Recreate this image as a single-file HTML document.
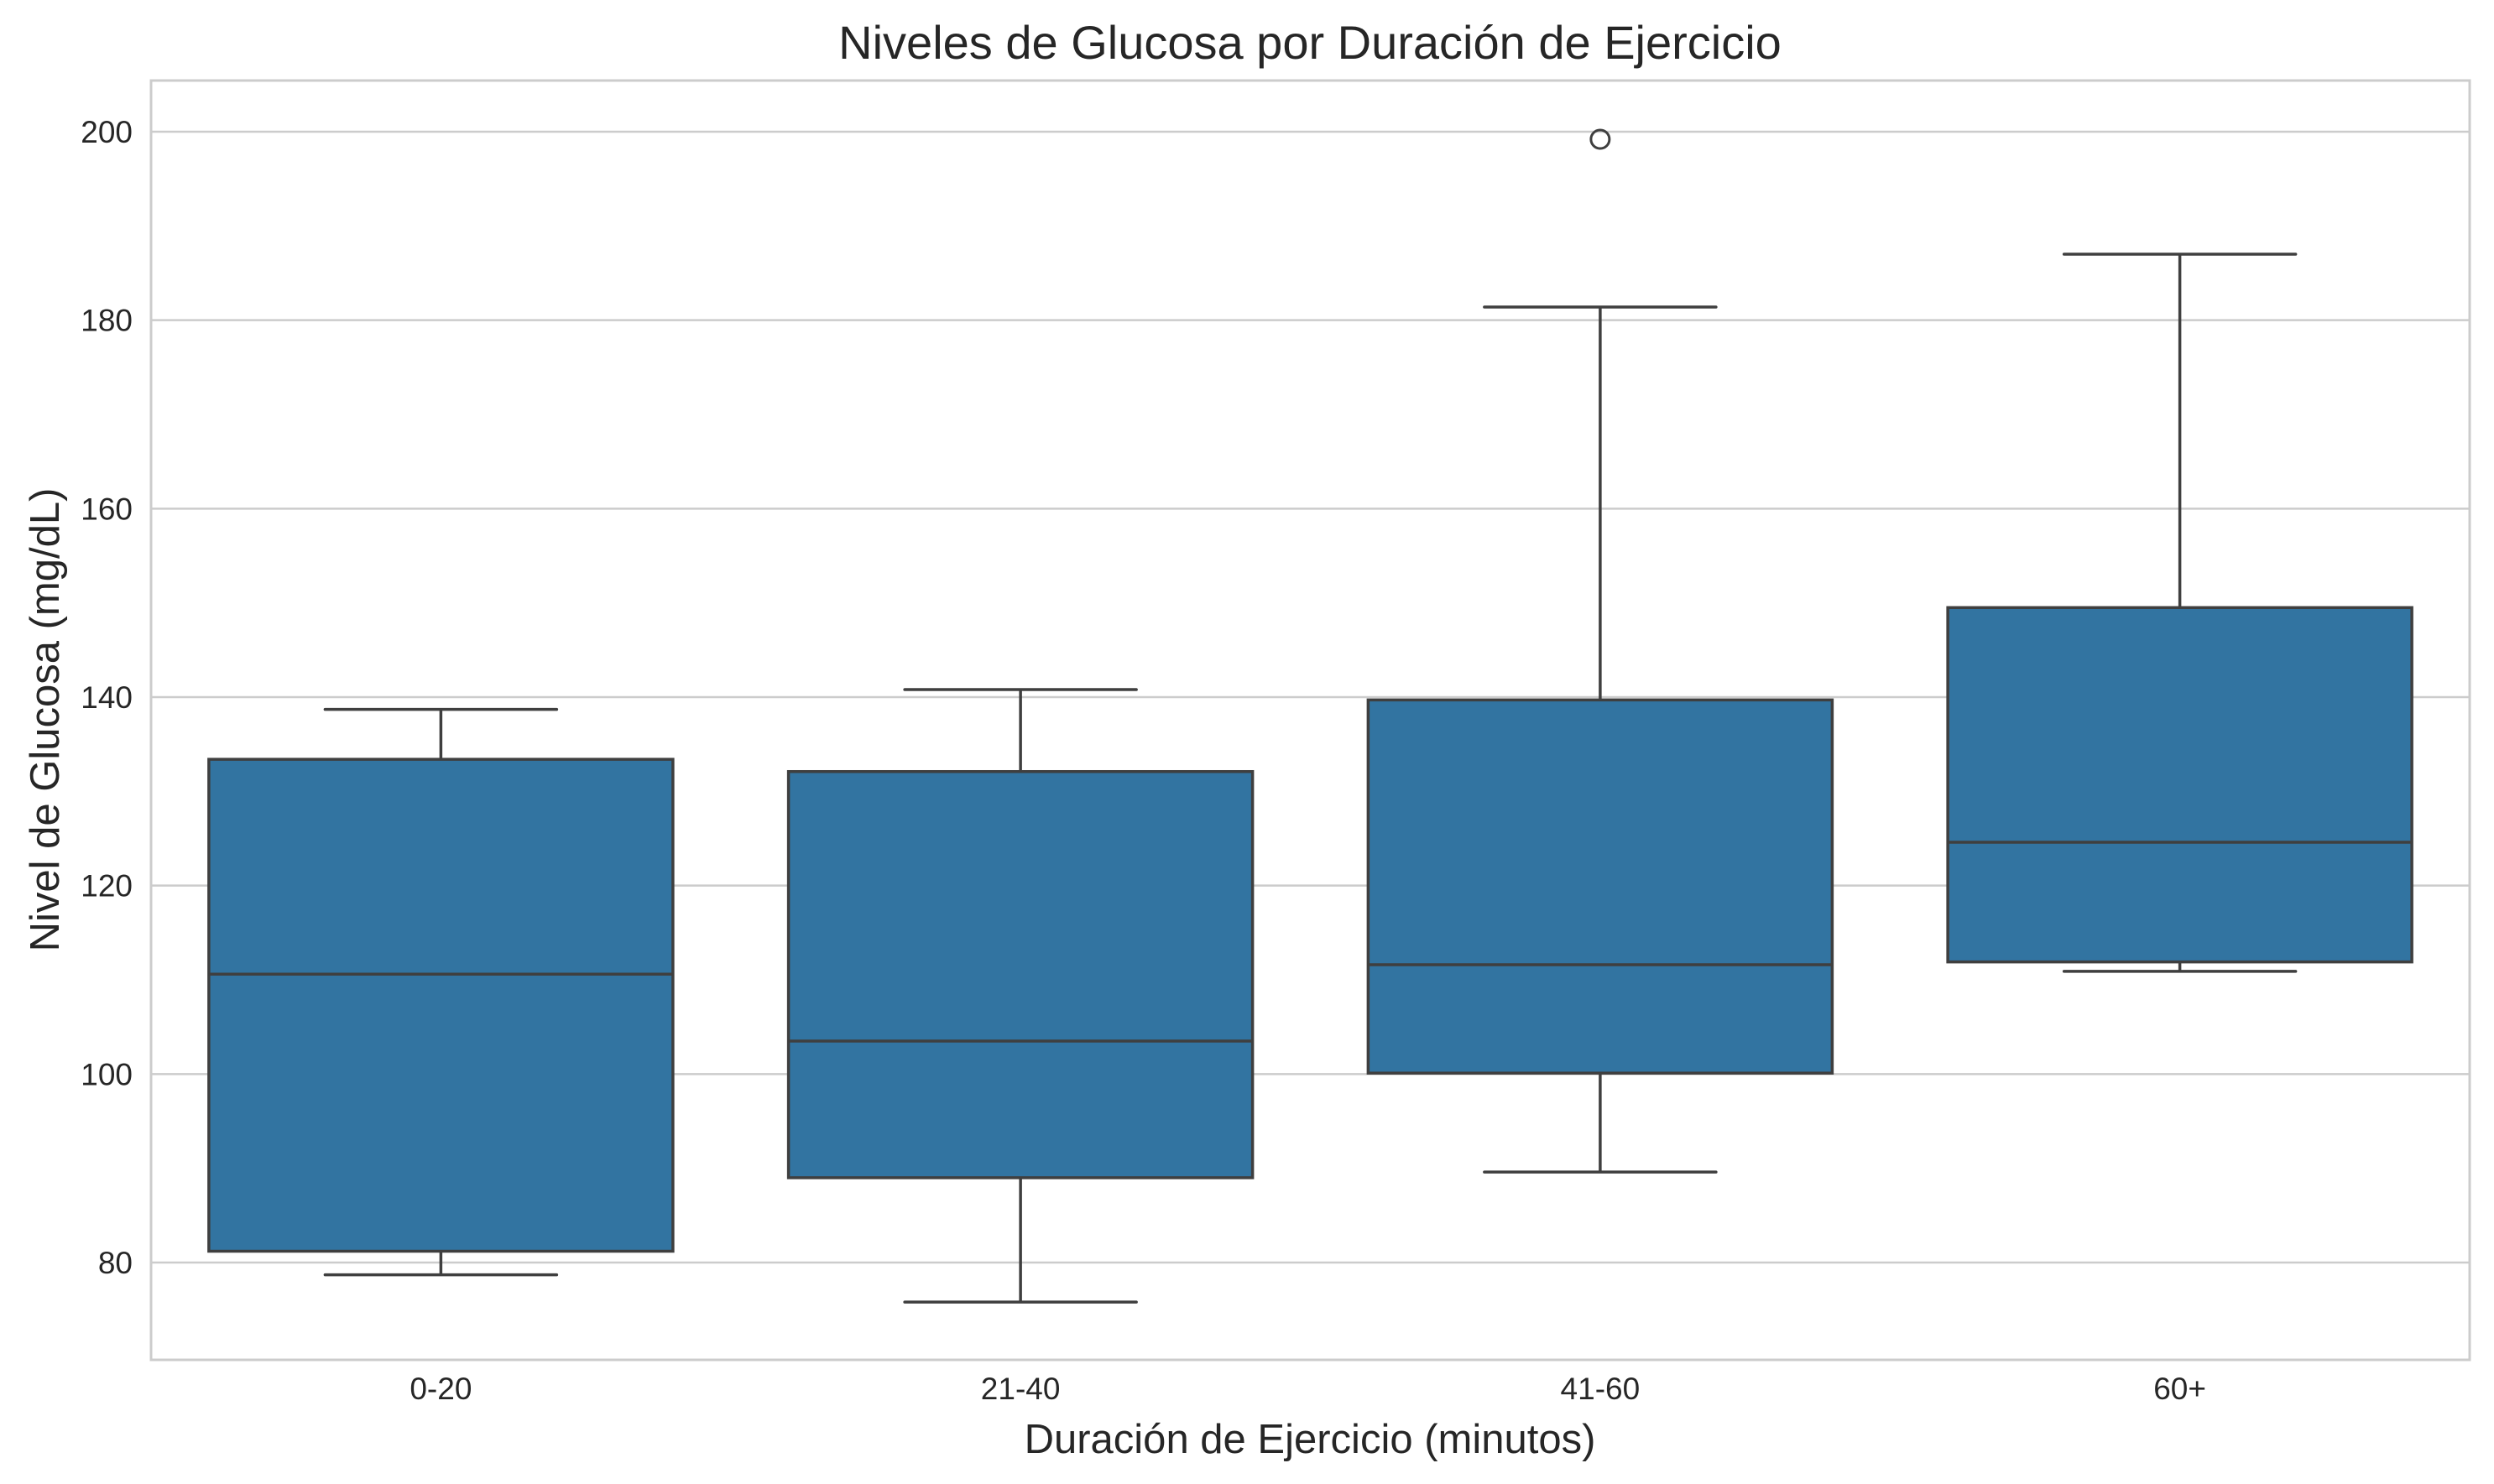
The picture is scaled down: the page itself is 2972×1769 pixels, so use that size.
<!DOCTYPE html>
<html><head><meta charset="utf-8"><style>html,body{margin:0;padding:0;background:#fff}svg{display:block}text{font-family:"Liberation Sans",sans-serif;fill:#262626}</style></head>
<body>
<svg id="chart" width="2972" height="1769" xmlns="http://www.w3.org/2000/svg">
<text x="1561" y="70" font-size="56" text-anchor="middle">Niveles de Glucosa por Duración de Ejercicio</text>
<text x="1561" y="1732" font-size="49" text-anchor="middle">Duración de Ejercicio (minutos)</text>
<text x="0" y="0" font-size="49" text-anchor="middle" transform="translate(70,858) rotate(-90)">Nivel de Glucosa (mg/dL)</text>
<g id="grid"></g><g id="boxes"></g>
<rect x="180" y="96" width="2763" height="1525" fill="none" stroke="#cccccc" stroke-width="3"/>
</svg>
<script>
const categories = ["0-20","21-40","41-60","60+"];
const whiskerLow = [78.7, 75.8, 89.6, 110.9];
const q1 = [81.2, 89.0, 100.1, 111.9];
const median = [110.6, 103.5, 111.6, 124.6];
const q3 = [133.4, 132.1, 139.7, 149.5];
const whiskerHigh = [138.7, 140.8, 181.4, 187.0];
const outliers = [[], [], [199.2], []];
const yTicks = [80, 100, 120, 140, 160, 180, 200];

const NS = "http://www.w3.org/2000/svg";
const L = 180, R = 2943, T = 96, B = 1621;
function y(v){ return 157 + (200 - v) * (1348 / 120); }
function x(i){ return L + (R - L) * (i + 0.5) / categories.length; }
function mk(tag, attrs, parent){ const e = document.createElementNS(NS, tag); for (const k in attrs) e.setAttribute(k, attrs[k]); parent.appendChild(e); return e; }
const grid = document.getElementById('grid'), boxes = document.getElementById('boxes'), svg = document.getElementById('chart');
yTicks.forEach(t => {
  const g = mk('line', {x1: L, x2: R, y1: y(t), y2: y(t), stroke: '#cccccc', 'stroke-width': 2.5}, grid);
  
  
  const lb = mk('text', {x: 158, y: y(t) + 13, 'font-size': 37, 'text-anchor': 'end'}, grid);
  lb.textContent = t;
  
  
});
const bw = 553, cw = 276, col = '#3f3f3f';
categories.forEach((c, i) => {
  const cx = x(i);
  const g = mk('g', {}, boxes);
  
  
  mk('line', {x1: cx, x2: cx, y1: y(whiskerHigh[i]), y2: y(q3[i]), stroke: col, 'stroke-width': 3.5}, g);
  mk('line', {x1: cx, x2: cx, y1: y(q1[i]), y2: y(whiskerLow[i]), stroke: col, 'stroke-width': 3.5}, g);
  mk('line', {x1: cx - cw/2, x2: cx + cw/2, y1: y(whiskerHigh[i]), y2: y(whiskerHigh[i]), stroke: col, 'stroke-width': 3.5, 'stroke-linecap': 'round'}, g);
  mk('line', {x1: cx - cw/2, x2: cx + cw/2, y1: y(whiskerLow[i]), y2: y(whiskerLow[i]), stroke: col, 'stroke-width': 3.5, 'stroke-linecap': 'round'}, g);
  mk('rect', {x: cx - bw/2, y: y(q3[i]), width: bw, height: y(q1[i]) - y(q3[i]), fill: '#3274a1', stroke: col, 'stroke-width': 3.5}, g);
  mk('line', {x1: cx - bw/2, x2: cx + bw/2, y1: y(median[i]), y2: y(median[i]), stroke: col, 'stroke-width': 3.5}, g);
  outliers[i].forEach(o => {
    const p = mk('circle', {cx: cx, cy: y(o), r: 11, fill: 'none', stroke: col, 'stroke-width': 3}, g);
    
    
  });
  const lb = mk('text', {x: cx, y: 1668, 'font-size': 37, 'text-anchor': 'middle'}, svg);
  lb.textContent = c;
  
  
});
</script>
</body></html>
